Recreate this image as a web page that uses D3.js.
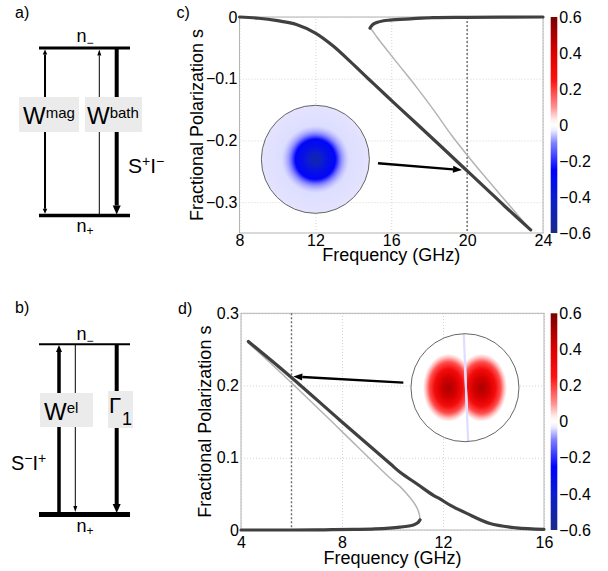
<!DOCTYPE html>
<html>
<head>
<meta charset="utf-8">
<script src="https://cdn.jsdelivr.net/npm/d3@7"></script>
<style>
body { margin: 0; background: #fff; }
text { font-family: "Liberation Sans", Arial, Helvetica, sans-serif; }
</style>
</head>
<body>
<div id="fig"></div>
<script>
// ---- values ----

// panel c: polarization vs frequency
var cFreqMain = [8, 9, 10, 11, 12, 12.94, 13.83, 14.79, 15.76, 16.46, 17.34, 18.39, 19.71, 20.06, 21, 22, 23.35];
var cSMain    = [0, -0.002, -0.006, -0.012, -0.026, -0.047, -0.072, -0.100, -0.128, -0.148, -0.173, -0.203, -0.241, -0.251, -0.278, -0.307, -0.345];
var cFreqUpper = [14.88, 15.0, 15.23, 15.6, 15.93, 17, 18.2, 20, 24];
var cSUpper    = [-0.018, -0.013, -0.009, -0.006, -0.005, -0.003, -0.001, -0.0005, 0];
var cFreqThin = [14.88, 15.0, 15.23, 15.76, 16.46, 17.34, 18.22, 19.19, 20.06, 21, 22, 23.35];
var cSThin    = [-0.018, -0.022, -0.032, -0.053, -0.080, -0.114, -0.150, -0.192, -0.226, -0.261, -0.297, -0.345];
var cXTicks = [8, 12, 16, 20, 24];
var cYTicks = [0, -0.1, -0.2, -0.3];

// panel d
var dFreqUpper = [4.29, 5.87, 7.92, 9.9, 10.3, 11.0, 11.62, 11.88, 12.3, 12.94, 13.86, 14.9, 16];
var dSUpper    = [0.261, 0.215, 0.152, 0.092, 0.080, 0.063, 0.048, 0.043, 0.034, 0.023, 0.009, 0.003, 0.001];
var dFreqThin = [4.29, 5.87, 7.92, 9.9, 10.3, 10.69, 10.95, 11.06, 11.09];
var dSThin    = [0.259, 0.208, 0.139, 0.072, 0.060, 0.045, 0.032, 0.022, 0.014];
var dFreqLower = [4, 6, 7.3, 8.5, 9.3, 10.3, 10.83, 11.0, 11.09];
var dSLower    = [0, 0, 0.0003, 0.0008, 0.0015, 0.004, 0.007, 0.010, 0.014];
var dXTicks = [4, 8, 12, 16];
var dYTicks = [0, 0.1, 0.2, 0.3];

// colour map used by colour bars and insets
var cmapValues = [-0.6, -0.4, -0.25, -0.1, -0.03, 0, 0.03, 0.1, 0.25, 0.4, 0.6];
var cmapColors = ["#1a2a8a", "#0a1ed0", "#0000ff", "#8080ff", "#ececff", "#ffffff", "#ffecec", "#ff9090", "#ff1010", "#dd0000", "#7a0000"];
var cbTicks = [-0.6, -0.4, -0.2, 0, 0.2, 0.4, 0.6];

// inset mode profiles (fraction of radius -> value)
var cInsetR = [0, 0.12, 0.25, 0.37, 0.4, 0.45, 0.5, 0.56, 0.62, 1];
var cInsetV = [-0.52, -0.42, -0.32, -0.28, -0.2, -0.12, -0.08, -0.055, -0.04, -0.035];
var dLobeR = [0, 0.3, 0.55, 0.75, 0.9, 1];
var dLobeV = [0.5, 0.42, 0.3, 0.18, 0.06, 0];


var W = 608, H = 571;
var svg = d3.select("#fig").append("svg").attr("width", W).attr("height", H);
var defs = svg.append("defs");
var cmap = d3.scaleLinear().domain(cmapValues).range(cmapColors);

function fmt(d) { return d === 0 ? "0" : d3.format(".1f")(d); }

function styleAxis(s) {
  s.select(".domain").remove();
  s.attr("font-family", null).attr("font-size", null);
  s.selectAll("text").attr("font-size", 16).attr("fill", "#000");
}

function arrow(g, x1, y1, x2, y2, w, hl, hw) {
  var a = Math.atan2(y2 - y1, x2 - x1);
  var bx = x2 - hl * Math.cos(a), by = y2 - hl * Math.sin(a);
  g.append("line").attr("x1", x1).attr("y1", y1).attr("x2", bx).attr("y2", by)
    .attr("stroke", "#000").attr("stroke-width", w);
  var px = Math.sin(a) * hw / 2, py = -Math.cos(a) * hw / 2;
  g.append("path")
    .attr("d", "M" + x2 + "," + y2 + "L" + (bx + px) + "," + (by + py) + "L" + (bx - px) + "," + (by - py) + "Z")
    .attr("fill", "#000");
}

function drawPanel(p) {
  var x = d3.scaleLinear().domain(p.xDomain).range([p.left, p.right]);
  var y = d3.scaleLinear().domain(p.yDomain).range([p.bottom, p.top]);
  var g = svg.append("g");

  // grid
  g.append("g").attr("transform", "translate(0," + p.bottom + ")")
    .call(d3.axisBottom(x).tickValues(p.xTicks).tickSize(-(p.bottom - p.top)).tickFormat(""))
    .call(function(s) { s.select(".domain").remove(); s.selectAll("line").attr("stroke", "#d4d4d4").attr("stroke-dasharray", "1,2"); });
  g.append("g").attr("transform", "translate(" + p.left + ",0)")
    .call(d3.axisLeft(y).tickValues(p.yTicks).tickSize(-(p.right - p.left)).tickFormat(""))
    .call(function(s) { s.select(".domain").remove(); s.selectAll("line").attr("stroke", "#d4d4d4").attr("stroke-dasharray", "1,2"); });

  // frame
  g.append("rect").attr("x", p.left).attr("y", p.top)
    .attr("width", p.right - p.left).attr("height", p.bottom - p.top)
    .attr("fill", "none").attr("stroke", "#b4b4b4").attr("stroke-width", 1);

  // tick labels
  g.append("g").attr("transform", "translate(0," + p.bottom + ")")
    .call(d3.axisBottom(x).tickValues(p.xTicks).tickSize(0).tickPadding(p.xPad).tickFormat(d3.format("d")))
    .call(styleAxis);
  g.append("g").attr("transform", "translate(" + p.left + ",0)")
    .call(d3.axisLeft(y).tickValues(p.yTicks).tickSize(0).tickPadding(2).tickFormat(fmt))
    .call(styleAxis);

  // axis titles
  g.append("text").attr("x", (p.left + p.right) / 2).attr("y", p.xTitleY)
    .attr("text-anchor", "middle").attr("font-size", 18).text("Frequency (GHz)");
  g.append("text").attr("transform", "translate(" + p.yTitleX + "," + (p.top + p.bottom) / 2 + ") rotate(-90)")
    .attr("text-anchor", "middle").attr("font-size", 18).text("Fractional Polarization s");
  g.append("text").attr("x", p.left - 63).attr("y", p.top + 1).attr("font-size", 16).text(p.letter);

  // dashed marker line
  g.append("line").attr("x1", x(p.marker)).attr("x2", x(p.marker))
    .attr("y1", p.top).attr("y2", p.bottom)
    .attr("stroke", "#6a6a6a").attr("stroke-width", 1.4).attr("stroke-dasharray", "2,2");

  // curves
  var line = d3.line().x(function(d) { return x(d[0]); }).y(function(d) { return y(d[1]); })
    .curve(d3.curveCatmullRom);
  p.series.forEach(function(s) {
    g.append("path").datum(d3.zip(s.f, s.s)).attr("d", line)
      .attr("fill", "none").attr("stroke", s.thin ? "#b4b4b4" : "#404040")
      .attr("stroke-width", s.thin ? 1.5 : 3.2).attr("stroke-linecap", "round");
  });

  // inset
  var cx = x(p.inset[0]), cy = y(p.inset[1]);
  p.drawInset(g, cx, cy, 54);
  g.append("circle").attr("cx", cx).attr("cy", cy).attr("r", 54)
    .attr("fill", "none").attr("stroke", "#555").attr("stroke-width", 0.9);

  arrow(g, x(p.arrow[0][0]), y(p.arrow[0][1]), x(p.arrow[1][0]), y(p.arrow[1][1]), 2.4, 9, 7);

  // colour bar
  var cb = d3.scaleLinear().domain([-0.6, 0.6]).range([p.bottom, p.top]);
  var gid = "cbg" + p.letter.charAt(0);
  var grad = defs.append("linearGradient").attr("id", gid)
    .attr("x1", 0).attr("y1", 1).attr("x2", 0).attr("y2", 0);
  cmapValues.forEach(function(v, i) {
    grad.append("stop").attr("offset", (v + 0.6) / 1.2).attr("stop-color", cmapColors[i]);
  });
  g.append("rect").attr("x", 550.7).attr("y", p.top).attr("width", 6.6)
    .attr("height", p.bottom - p.top).attr("fill", "url(#" + gid + ")");
  g.append("g").attr("transform", "translate(557.3,0)")
    .call(d3.axisRight(cb).tickValues(cbTicks).tickSize(0).tickPadding(2).tickFormat(fmt))
    .call(styleAxis);
}

// inset c: round blue mode
function insetC(g, cx, cy, r) {
  var rg = defs.append("radialGradient").attr("id", "insC");
  cInsetR.forEach(function(t, i) {
    rg.append("stop").attr("offset", t).attr("stop-color", cmap(cInsetV[i]));
  });
  g.append("circle").attr("cx", cx).attr("cy", cy).attr("r", r).attr("fill", "url(#insC)");
}

// inset d: two red lobes split by a thin line
function insetD(g, cx, cy, r) {
  g.append("circle").attr("cx", cx).attr("cy", cy).attr("r", r).attr("fill", "#fff");
  var rg = defs.append("radialGradient").attr("id", "insD");
  dLobeR.forEach(function(t, i) {
    rg.append("stop").attr("offset", t).attr("stop-color", cmap(dLobeV[i]));
  });
  var tTop = -1.7, tBot = 2.7;
  defs.append("clipPath").attr("id", "lobeL").append("path")
    .attr("d", "M" + (cx - r) + "," + (cy - r) + "L" + (cx + tTop - 0.5) + "," + (cy - r) +
      "L" + (cx + tBot - 0.5) + "," + (cy + r) + "L" + (cx - r) + "," + (cy + r) + "Z");
  defs.append("clipPath").attr("id", "lobeR").append("path")
    .attr("d", "M" + (cx + r) + "," + (cy - r) + "L" + (cx + tTop + 1.5) + "," + (cy - r) +
      "L" + (cx + tBot + 1.5) + "," + (cy + r) + "L" + (cx + r) + "," + (cy + r) + "Z");
  g.append("ellipse").attr("cx", cx - 16.5).attr("cy", cy).attr("rx", 25.5).attr("ry", 34)
    .attr("fill", "url(#insD)").attr("clip-path", "url(#lobeL)");
  g.append("ellipse").attr("cx", cx + 16.5).attr("cy", cy).attr("rx", 25.5).attr("ry", 34)
    .attr("fill", "url(#insD)").attr("clip-path", "url(#lobeR)");
  g.append("line").attr("x1", cx + tTop + 0.5).attr("y1", cy - r).attr("x2", cx + tBot + 0.5).attr("y2", cy + r)
    .attr("stroke", cmap(-0.04)).attr("stroke-width", 2.2);
}

drawPanel({
  letter: "c)", left: 239.5, right: 543, top: 17, bottom: 233,
  xDomain: [8, 24], yDomain: [-0.35, 0], xTicks: cXTicks, yTicks: cYTicks,
  xPad: 1.5, xTitleY: 261, yTitleX: 202.5, marker: 20,
  series: [
    {f: cFreqThin, s: cSThin, thin: true},
    {f: cFreqMain, s: cSMain},
    {f: cFreqUpper, s: cSUpper}
  ],
  inset: [12, -0.2306], drawInset: insetC,
  arrow: [[15.3, -0.237], [19.73, -0.248]]
});

drawPanel({
  letter: "d)", left: 241, right: 544, top: 313.3, bottom: 530,
  xDomain: [4, 16], yDomain: [0, 0.3], xTicks: dXTicks, yTicks: dYTicks,
  xPad: 6.5, xTitleY: 563.5, yTitleX: 211, marker: 6,
  series: [
    {f: dFreqThin, s: dSThin, thin: true},
    {f: dFreqUpper, s: dSUpper},
    {f: dFreqLower, s: dSLower}
  ],
  inset: [12.87, 0.197], drawInset: insetD,
  arrow: [[10.43, 0.204], [6.07, 0.2126]]
});

// ---- level diagrams a) and b) ----
function level(g, y, w) {
  g.append("line").attr("x1", 39).attr("x2", 130).attr("y1", y).attr("y2", y)
    .attr("stroke", "#000").attr("stroke-width", w);
}
function nLabel(g, y, sub) {
  var t = g.append("text").attr("x", 85).attr("y", y).attr("text-anchor", "middle").attr("font-size", 18);
  t.append("tspan").text("n");
  t.append("tspan").attr("font-size", 12).attr("dy", sub === "+" ? 3 : 5).text(sub);
}
function box(g, x0, y0, w, h) {
  g.append("rect").attr("x", x0).attr("y", y0).attr("width", w).attr("height", h).attr("fill", "#ebebeb");
}

var ga = svg.append("g");
ga.append("text").attr("x", 15).attr("y", 18).attr("font-size", 16).text("a)");
nLabel(ga, 42, "\u2212");
nLabel(ga, 232, "+");
level(ga, 48, 3);
level(ga, 215.5, 3.5);
arrow(ga, 45, 130, 45, 49.5, 2, 5, 4.5);
arrow(ga, 45, 130, 45, 213.8, 2, 5, 4.5);
arrow(ga, 99.3, 214, 99.3, 49.5, 1, 6, 4);
arrow(ga, 116.7, 49, 116.7, 214.5, 4, 9, 8);
box(ga, 19, 97, 60, 35);
box(ga, 85, 97, 57, 35);
var t1 = ga.append("text").attr("x", 23).attr("y", 124).attr("font-size", 24);
t1.append("tspan").text("W");
t1.append("tspan").attr("font-size", 15).attr("dy", -6).text("mag");
var t2 = ga.append("text").attr("x", 87).attr("y", 124).attr("font-size", 24);
t2.append("tspan").text("W");
t2.append("tspan").attr("font-size", 15).attr("dy", -6).text("bath");
var t3 = ga.append("text").attr("x", 128).attr("y", 173).attr("font-size", 21);
t3.append("tspan").text("S");
t3.append("tspan").attr("font-size", 14).attr("dy", -7).text("+");
t3.append("tspan").attr("dy", 7).text("I");
t3.append("tspan").attr("font-size", 14).attr("dy", -7).text("\u2212");

var gb = svg.append("g");
gb.append("text").attr("x", 15).attr("y", 313).attr("font-size", 16).text("b)");
nLabel(gb, 340, "\u2212");
nLabel(gb, 532, "+");
level(gb, 344.3, 2);
level(gb, 514.5, 5);
arrow(gb, 59, 513, 59, 345, 3.5, 7, 6);
arrow(gb, 75.3, 345, 75.3, 512, 1, 6, 4);
arrow(gb, 116.7, 345, 116.7, 513, 4, 9, 8);
box(gb, 40, 393, 53, 34);
box(gb, 108, 391, 25, 37);
var t4 = gb.append("text").attr("x", 44).attr("y", 420).attr("font-size", 24);
t4.append("tspan").text("W");
t4.append("tspan").attr("font-size", 15).attr("dy", -7).text("el");
gb.append("text").attr("x", 109).attr("y", 413).attr("font-size", 22)
  .attr("font-family", "'Liberation Serif', 'Times New Roman', serif").text("\u0393");
gb.append("text").attr("x", 122).attr("y", 425).attr("font-size", 18).text("1");
var t5 = gb.append("text").attr("x", 11).attr("y", 470).attr("font-size", 20);
t5.append("tspan").text("S");
t5.append("tspan").attr("font-size", 14).attr("dy", -7).text("\u2212");
t5.append("tspan").attr("dy", 7).text("I");
t5.append("tspan").attr("font-size", 14).attr("dy", -7).text("+");
</script>
</body>
</html>
